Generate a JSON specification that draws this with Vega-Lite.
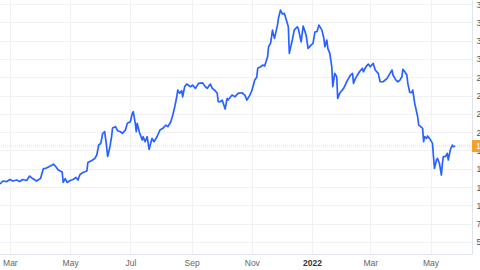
{
  "$schema": "https://vega.github.io/schema/vega-lite/v6.json",
  "width": 472,
  "height": 254,
  "autosize": {"type": "none"},
  "padding": {"left": 0, "top": 0, "right": 8, "bottom": 16},
  "background": "#ffffff",
  "config": {"view": {"stroke": null}, "font": "Liberation Sans"},
  "encoding": {
    "y": {
      "field": "price", "type": "quantitative", "title": null,
      "scale": {"domain": [33.6, 380.6], "nice": false, "zero": false},
      "axis": {
        "orient": "right",
        "values": [50, 75, 100, 125, 150, 175, 200, 225, 250, 275, 300, 325, 350, 375],
        "labelFontSize": 8.5,
        "labelColor": "#555555",
        "labelPadding": 4,
        "labelOverlap": false,
        "labelFlush": false,
        "ticks": false,
        "grid": true,
        "gridColor": "#eff1f5",
        "domainColor": "#e0e3eb"
      }
    }
  },
  "layer": [
    {
      "data": {"values": [
        {"date":"2021-02-19","price":129.2},{"date":"2021-02-22","price":133.3},{"date":"2021-02-26","price":132.6},{"date":"2021-03-01","price":135.4},{"date":"2021-03-04","price":133.3},{"date":"2021-03-08","price":134.7},{"date":"2021-03-11","price":132.6},{"date":"2021-03-14","price":135.4},{"date":"2021-03-18","price":134.0},{"date":"2021-03-21","price":140.1},{"date":"2021-03-24","price":136.7},{"date":"2021-03-28","price":133.3},{"date":"2021-04-01","price":136.7},{"date":"2021-04-04","price":150.4},{"date":"2021-04-06","price":150.4},{"date":"2021-04-09","price":152.4},{"date":"2021-04-13","price":155.2},{"date":"2021-04-14","price":156.5},{"date":"2021-04-16","price":153.8},{"date":"2021-04-19","price":148.3},{"date":"2021-04-23","price":145.6},{"date":"2021-04-24","price":131.3},{"date":"2021-04-26","price":136.7},{"date":"2021-04-28","price":131.3},{"date":"2021-05-01","price":134.0},{"date":"2021-05-04","price":135.4},{"date":"2021-05-07","price":138.1},{"date":"2021-05-09","price":134.7},{"date":"2021-05-11","price":142.2},{"date":"2021-05-14","price":144.9},{"date":"2021-05-18","price":147.0},{"date":"2021-05-19","price":158.6},{"date":"2021-05-23","price":161.3},{"date":"2021-05-26","price":164.0},{"date":"2021-05-28","price":168.8},{"date":"2021-05-30","price":182.5},{"date":"2021-06-01","price":184.5},{"date":"2021-06-03","price":198.2},{"date":"2021-06-05","price":200.9},{"date":"2021-06-07","price":180.4},{"date":"2021-06-08","price":166.8},{"date":"2021-06-10","price":177.7},{"date":"2021-06-12","price":194.1},{"date":"2021-06-13","price":205.7},{"date":"2021-06-16","price":207.5},{"date":"2021-06-18","price":202.0},{"date":"2021-06-21","price":200.6},{"date":"2021-06-23","price":198.4},{"date":"2021-06-26","price":202.9},{"date":"2021-06-28","price":212.1},{"date":"2021-07-01","price":214.3},{"date":"2021-07-03","price":225.8},{"date":"2021-07-04","price":227.9},{"date":"2021-07-06","price":212.1},{"date":"2021-07-07","price":200.6},{"date":"2021-07-08","price":212.1},{"date":"2021-07-10","price":200.6},{"date":"2021-07-13","price":189.3},{"date":"2021-07-14","price":193.8},{"date":"2021-07-16","price":187.0},{"date":"2021-07-18","price":193.8},{"date":"2021-07-20","price":176.6},{"date":"2021-07-23","price":191.6},{"date":"2021-07-25","price":187.0},{"date":"2021-07-28","price":193.8},{"date":"2021-07-31","price":202.9},{"date":"2021-08-03","price":205.3},{"date":"2021-08-06","price":209.8},{"date":"2021-08-08","price":207.5},{"date":"2021-08-11","price":214.3},{"date":"2021-08-13","price":223.4},{"date":"2021-08-15","price":234.8},{"date":"2021-08-17","price":248.4},{"date":"2021-08-18","price":257.6},{"date":"2021-08-20","price":253.1},{"date":"2021-08-22","price":256.6},{"date":"2021-08-23","price":248.4},{"date":"2021-08-25","price":262.1},{"date":"2021-08-27","price":265.8},{"date":"2021-08-31","price":262.1},{"date":"2021-09-02","price":264.4},{"date":"2021-09-05","price":259.9},{"date":"2021-09-08","price":266.7},{"date":"2021-09-12","price":267.5},{"date":"2021-09-15","price":262.1},{"date":"2021-09-17","price":259.9},{"date":"2021-09-20","price":265.8},{"date":"2021-09-22","price":259.9},{"date":"2021-09-25","price":256.6},{"date":"2021-09-27","price":253.1},{"date":"2021-09-28","price":241.6},{"date":"2021-09-30","price":241.6},{"date":"2021-10-02","price":243.9},{"date":"2021-10-05","price":231.6},{"date":"2021-10-07","price":246.2},{"date":"2021-10-08","price":243.9},{"date":"2021-10-12","price":250.7},{"date":"2021-10-15","price":248.4},{"date":"2021-10-18","price":253.1},{"date":"2021-10-22","price":253.9},{"date":"2021-10-25","price":250.7},{"date":"2021-10-27","price":243.9},{"date":"2021-10-30","price":250.7},{"date":"2021-11-01","price":256.6},{"date":"2021-11-04","price":271.2},{"date":"2021-11-06","price":274.9},{"date":"2021-11-07","price":287.2},{"date":"2021-11-10","price":289.4},{"date":"2021-11-12","price":291.7},{"date":"2021-11-14","price":290.3},{"date":"2021-11-17","price":303.0},{"date":"2021-11-18","price":316.7},{"date":"2021-11-20","price":321.3},{"date":"2021-11-22","price":339.5},{"date":"2021-11-23","price":332.7},{"date":"2021-11-24","price":328.2},{"date":"2021-11-27","price":346.3},{"date":"2021-11-28","price":355.5},{"date":"2021-11-30","price":366.8},{"date":"2021-12-02","price":361.4},{"date":"2021-12-04","price":362.3},{"date":"2021-12-06","price":353.2},{"date":"2021-12-08","price":344.0},{"date":"2021-12-09","price":307.7},{"date":"2021-12-12","price":325.9},{"date":"2021-12-14","price":339.5},{"date":"2021-12-17","price":344.0},{"date":"2021-12-18","price":341.8},{"date":"2021-12-21","price":323.5},{"date":"2021-12-23","price":345.0},{"date":"2021-12-26","price":332.7},{"date":"2021-12-28","price":314.5},{"date":"2021-12-31","price":319.0},{"date":"2022-01-02","price":321.3},{"date":"2022-01-04","price":337.2},{"date":"2022-01-06","price":337.2},{"date":"2022-01-08","price":346.3},{"date":"2022-01-11","price":339.5},{"date":"2022-01-13","price":328.2},{"date":"2022-01-14","price":316.7},{"date":"2022-01-16","price":325.9},{"date":"2022-01-17","price":314.5},{"date":"2022-01-19","price":307.7},{"date":"2022-01-21","price":289.4},{"date":"2022-01-22","price":262.1},{"date":"2022-01-24","price":280.4},{"date":"2022-01-26","price":275.7},{"date":"2022-01-27","price":246.2},{"date":"2022-01-29","price":253.1},{"date":"2022-02-02","price":259.9},{"date":"2022-02-06","price":271.2},{"date":"2022-02-09","price":278.1},{"date":"2022-02-11","price":280.4},{"date":"2022-02-12","price":266.7},{"date":"2022-02-14","price":273.5},{"date":"2022-02-16","price":278.1},{"date":"2022-02-18","price":282.6},{"date":"2022-02-21","price":287.2},{"date":"2022-02-22","price":282.6},{"date":"2022-02-25","price":290.3},{"date":"2022-02-27","price":293.1},{"date":"2022-03-01","price":289.4},{"date":"2022-03-04","price":294.0},{"date":"2022-03-06","price":284.9},{"date":"2022-03-09","price":280.4},{"date":"2022-03-11","price":268.9},{"date":"2022-03-14","price":268.9},{"date":"2022-03-18","price":273.5},{"date":"2022-03-21","price":280.4},{"date":"2022-03-23","price":284.9},{"date":"2022-03-24","price":278.1},{"date":"2022-03-27","price":271.2},{"date":"2022-03-29","price":268.9},{"date":"2022-03-31","price":271.2},{"date":"2022-04-02","price":275.7},{"date":"2022-04-03","price":285.8},{"date":"2022-04-05","price":282.6},{"date":"2022-04-07","price":278.1},{"date":"2022-04-08","price":266.7},{"date":"2022-04-10","price":254.2},{"date":"2022-04-12","price":254.2},{"date":"2022-04-13","price":257.6},{"date":"2022-04-15","price":239.4},{"date":"2022-04-18","price":221.1},{"date":"2022-04-19","price":209.8},{"date":"2022-04-21","price":207.5},{"date":"2022-04-23","price":205.3},{"date":"2022-04-24","price":187.0},{"date":"2022-04-25","price":193.8},{"date":"2022-04-27","price":191.6},{"date":"2022-04-28","price":194.8},{"date":"2022-04-30","price":191.6},{"date":"2022-05-03","price":184.8},{"date":"2022-05-04","price":166.5},{"date":"2022-05-05","price":150.6},{"date":"2022-05-07","price":162.0},{"date":"2022-05-08","price":164.3},{"date":"2022-05-10","price":157.5},{"date":"2022-05-12","price":141.5},{"date":"2022-05-13","price":157.5},{"date":"2022-05-14","price":166.5},{"date":"2022-05-16","price":166.5},{"date":"2022-05-18","price":171.1},{"date":"2022-05-19","price":162.0},{"date":"2022-05-21","price":175.6},{"date":"2022-05-23","price":182.5},{"date":"2022-05-24","price":180.1},{"date":"2022-05-26","price":181.1}
      ]},
      "mark": {"type": "line", "color": "#2962ff", "strokeWidth": 1.7, "strokeJoin": "round"},
      "encoding": {
        "x": {
          "field": "date", "type": "temporal", "title": null,
          "scale": {"domain": [{"year": 2021, "month": 2, "date": 19}, {"year": 2022, "month": 6, "date": 12}]},
          "axis": {
            "tickCount": {"interval": "month", "step": 2},
            "labelExpr": "month(datum.value) == 0 ? timeFormat(datum.value, '%Y') : timeFormat(datum.value, '%b')",
            "labelFontWeight": {"condition": {"test": "month(datum.value) == 0", "value": "bold"}, "value": "normal"},
            "labelColor": {"condition": {"test": "month(datum.value) == 0", "value": "#333333"}, "value": "#666666"},
            "labelFontSize": 8.5,
            "labelPadding": 4,
            "labelOverlap": false,
            "labelFlush": false,
            "ticks": false,
            "grid": true,
            "gridColor": "#eff1f5",
            "domainColor": "#e0e3eb"
          }
        }
      }
    },
    {
      "data": {"values": [{"price": 181.1}]},
      "mark": {"type": "rule", "color": "#f5a623", "opacity": 0.45, "strokeWidth": 1, "strokeDash": [1, 1]},
      "encoding": {}
    },
    {
      "data": {"values": [{"price": 181.1}]},
      "mark": {"type": "point", "shape": "M0,-1H3V1H0Z", "size": 144, "filled": true, "color": "#f5a02a", "opacity": 1},
      "encoding": {
        "x": {"datum": {"year": 2022, "month": 6, "date": 12}, "type": "temporal"}
      }
    },
    {
      "data": {"values": [{"price": 181.1}]},
      "mark": {"type": "text", "color": "#ffffff", "fontSize": 8.5, "align": "left", "baseline": "middle", "dx": 4},
      "encoding": {
        "x": {"datum": {"year": 2022, "month": 6, "date": 12}, "type": "temporal"},
        "text": {"field": "price", "type": "quantitative", "format": ".0f"}
      }
    }
  ]
}
